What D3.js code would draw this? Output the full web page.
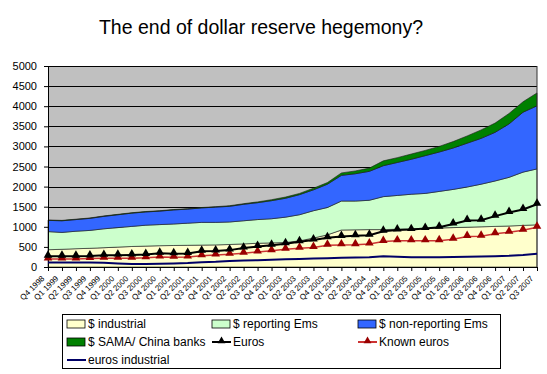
<!DOCTYPE html>
<html>

<head>
    <meta charset="utf-8">
    <script src="https://d3js.org/d3.v7.js"></script>
    <style type="text/css">
        body {
            margin: 0;
            background: #fff;
            font-family: "Liberation Sans", Arial, sans-serif;
        }

        .title {
            font-size: 19.5px;
        }

        .ylab {
            font-size: 11px;
        }

        .xlab {
            font-size: 8px;
            fill: #000;
        }

        .leg {
            font-size: 12px;
        }
    </style>
</head>

<body>
    <svg width="547" height="374"></svg>

    <script>
        var quarters = ["Q4 1998", "Q1 1999", "Q2 1999", "Q3 1999", "Q4 1999", "Q1 2000", "Q2 2000", "Q3 2000",
            "Q4 2000", "Q1 2001", "Q2 2001", "Q3 2001", "Q4 2001", "Q1 2002", "Q2 2002", "Q3 2002", "Q4 2002",
            "Q1 2003", "Q2 2003", "Q3 2003", "Q4 2003", "Q1 2004", "Q2 2004", "Q3 2004", "Q4 2004", "Q1 2005",
            "Q2 2005", "Q3 2005", "Q4 2005", "Q1 2006", "Q2 2006", "Q3 2006", "Q4 2006", "Q1 2007", "Q2 2007",
            "Q3 2007"];

        // stacked layers
        var industrial = [430, 440, 455, 465, 480, 495, 510, 520, 530, 535, 540, 545, 550, 560, 575, 590, 600,
            610, 650, 720, 800, 920, 925, 930, 930, 940, 950, 960, 970, 980, 990, 1000, 1010, 1020, 1035, 1050];
        var reportingEms = [450, 420, 435, 445, 470, 485, 500, 520, 525, 535, 550, 565, 560, 560, 575, 590, 600,
            630, 650, 680, 680, 720, 715, 730, 820, 840, 860, 870, 910, 950, 1000, 1060, 1130, 1210, 1325, 1390];
        var nonReportingEms = [280, 290, 290, 300, 310, 320, 330, 330, 335, 350, 350, 360, 380, 390, 410, 420,
            450, 470, 500, 520, 580, 640, 680, 720, 770, 820, 870, 940, 980, 1030, 1090, 1140, 1210, 1330, 1490, 1570];
        var samaChina = [10, 10, 10, 10, 10, 10, 10, 10, 10, 10, 10, 10, 10, 15, 15, 20, 25, 30, 30, 40, 40, 60,
            70, 80, 120, 120, 130, 130, 140, 160, 180, 210, 230, 260, 260, 320];

        // lines
        var euros = [270, 270, 270, 275, 290, 295, 300, 310, 340, 330, 335, 390, 400, 420, 470, 510, 540, 580,
            630, 670, 730, 760, 780, 790, 890, 920, 930, 960, 990, 1070, 1155, 1165, 1265, 1355, 1430, 1560];
        var knownEuros = [200, 200, 200, 210, 215, 215, 220, 230, 250, 245, 250, 280, 300, 315, 340, 375, 405,
            440, 465, 485, 540, 550, 555, 570, 635, 650, 650, 650, 655, 690, 760, 765, 825, 865, 915, 990];
        var eurosIndustrial = [115, 115, 110, 110, 105, 90, 75, 75, 80, 90, 100, 120, 130, 150, 160, 170, 180,
            190, 200, 210, 220, 230, 235, 240, 270, 255, 245, 245, 245, 250, 255, 260, 270, 280, 300, 330];

        var yTicks = [0, 500, 1000, 1500, 2000, 2500, 3000, 3500, 4000, 4500, 5000];

        var svg = d3.select("svg");
        var plotL = 48, plotR = 537, plotT = 66, plotB = 267;

        var x = d3.scalePoint().domain(quarters).range([plotL, plotR]);
        var y = d3.scaleLinear().domain([0, 5000]).range([plotB, plotT]);

        svg.append("text")
            .attr("class", "title")
            .attr("x", 261)
            .attr("y", 34)
            .attr("text-anchor", "middle")
            .text("The end of dollar reserve hegemony?");

        // plot background
        svg.append("rect")
            .attr("x", plotL).attr("y", plotT)
            .attr("width", plotR - plotL).attr("height", plotB - plotT)
            .attr("fill", "#c0c0c0");

        // gridlines
        svg.append("g").selectAll("line")
            .data(yTicks.slice(1))
            .enter().append("line")
            .attr("x1", plotL).attr("x2", plotR)
            .attr("y1", d => Math.round(y(d)) + 0.5).attr("y2", d => Math.round(y(d)) + 0.5)
            .attr("stroke", "#000").attr("stroke-width", 1);

        var rows = quarters.map(function(q, i) {
            return {
                q: q,
                industrial: industrial[i],
                reporting: reportingEms[i],
                nonreporting: nonReportingEms[i],
                sama: samaChina[i]
            };
        });

        var keys = ["industrial", "reporting", "nonreporting", "sama"];
        var colors = {industrial: "#ffffcc", reporting: "#ccffcc", nonreporting: "#3366ff", sama: "#008000"};
        var series = d3.stack().keys(keys)(rows);

        var area = d3.area()
            .x(d => x(d.data.q))
            .y0(d => y(d[0]))
            .y1(d => y(d[1]));

        svg.append("g").selectAll("path")
            .data(series)
            .enter().append("path")
            .attr("d", area)
            .attr("fill", d => colors[d.key])
            .attr("stroke", "#1a1a1a")
            .attr("stroke-width", 0.6);

        // plot border on the right and axes
        svg.append("line")
            .attr("x1", plotR).attr("x2", plotR).attr("y1", plotT).attr("y2", plotB)
            .attr("stroke", "#333").attr("stroke-width", 1);

        var yAxis = svg.append("g")
            .attr("transform", `translate(${plotL},0)`)
            .call(d3.axisLeft(y).tickValues(yTicks).tickFormat(d3.format("d")).tickSize(4).tickPadding(7));
        yAxis.select(".domain").attr("stroke", "#000");
        yAxis.selectAll("text").attr("class", "ylab").attr("font-family", null).attr("font-size", null).attr("fill", "#000");

        var xAxis = svg.append("g")
            .attr("transform", `translate(0,${plotB})`)
            .call(d3.axisBottom(x).tickSize(4).tickFormat(""));
        xAxis.select(".domain").attr("stroke", "#000");

        svg.append("g").selectAll("text")
            .data(quarters)
            .enter().append("text")
            .attr("class", "xlab")
            .attr("text-anchor", "end")
            .attr("transform", d => `translate(${x(d) - 3},${plotB + 12}) rotate(-45)`)
            .text(d => d);

        // lines with markers
        function drawLine(values, color, width, marker) {
            var line = d3.line()
                .x((d, i) => x(quarters[i]))
                .y(d => y(d));
            svg.append("path")
                .datum(values)
                .attr("d", line)
                .attr("fill", "none")
                .attr("stroke", color)
                .attr("stroke-width", width);
            if (marker) {
                svg.append("g").selectAll("path")
                    .data(values)
                    .enter().append("path")
                    .attr("d", d3.symbol().type(d3.symbolTriangle).size(32))
                    .attr("transform", (d, i) => `translate(${x(quarters[i])},${y(d) - 1})`)
                    .attr("fill", marker);
            }
        }

        drawLine(eurosIndustrial, "#000066", 2, null);
        drawLine(knownEuros, "#cc3333", 1.5, "#990000");
        drawLine(euros, "#000", 2, "#000");

        // legend
        var lg = svg.append("g");
        lg.append("rect")
            .attr("x", 62.5).attr("y", 314.5)
            .attr("width", 438).attr("height", 54)
            .attr("fill", "#fff").attr("stroke", "#000").attr("stroke-width", 1);

        var legendItems = [
            {label: "$ industrial", col: 0, row: 0, fill: "#ffffcc"},
            {label: "$ reporting Ems", col: 1, row: 0, fill: "#ccffcc"},
            {label: "$ non-reporting Ems", col: 2, row: 0, fill: "#3366ff"},
            {label: "$ SAMA/ China banks", col: 0, row: 1, fill: "#008000"},
            {label: "Euros", col: 1, row: 1, line: "#000", marker: "#000"},
            {label: "Known euros", col: 2, row: 1, line: "#cc3333", marker: "#990000"},
            {label: "euros industrial", col: 0, row: 2, line: "#000066"}
        ];
        var colX = [67, 212, 358];
        var rowY = [324, 342, 360];

        legendItems.forEach(function(it) {
            var lx = colX[it.col], ly = rowY[it.row];
            if (it.fill) {
                lg.append("rect")
                    .attr("x", lx).attr("y", ly - 4)
                    .attr("width", 18).attr("height", 8)
                    .attr("fill", it.fill).attr("stroke", "#000").attr("stroke-width", 0.8);
            } else {
                lg.append("line")
                    .attr("x1", lx).attr("x2", lx + 19).attr("y1", ly).attr("y2", ly)
                    .attr("stroke", it.line).attr("stroke-width", 2);
                if (it.marker) {
                    lg.append("path")
                        .attr("d", d3.symbol().type(d3.symbolTriangle).size(26))
                        .attr("transform", `translate(${lx + 9.5},${ly - 1})`)
                        .attr("fill", it.marker);
                }
            }
            lg.append("text")
                .attr("class", "leg")
                .attr("x", lx + 21)
                .attr("y", ly + 4)
                .text(it.label);
        });
    </script>
</body>

</html>
